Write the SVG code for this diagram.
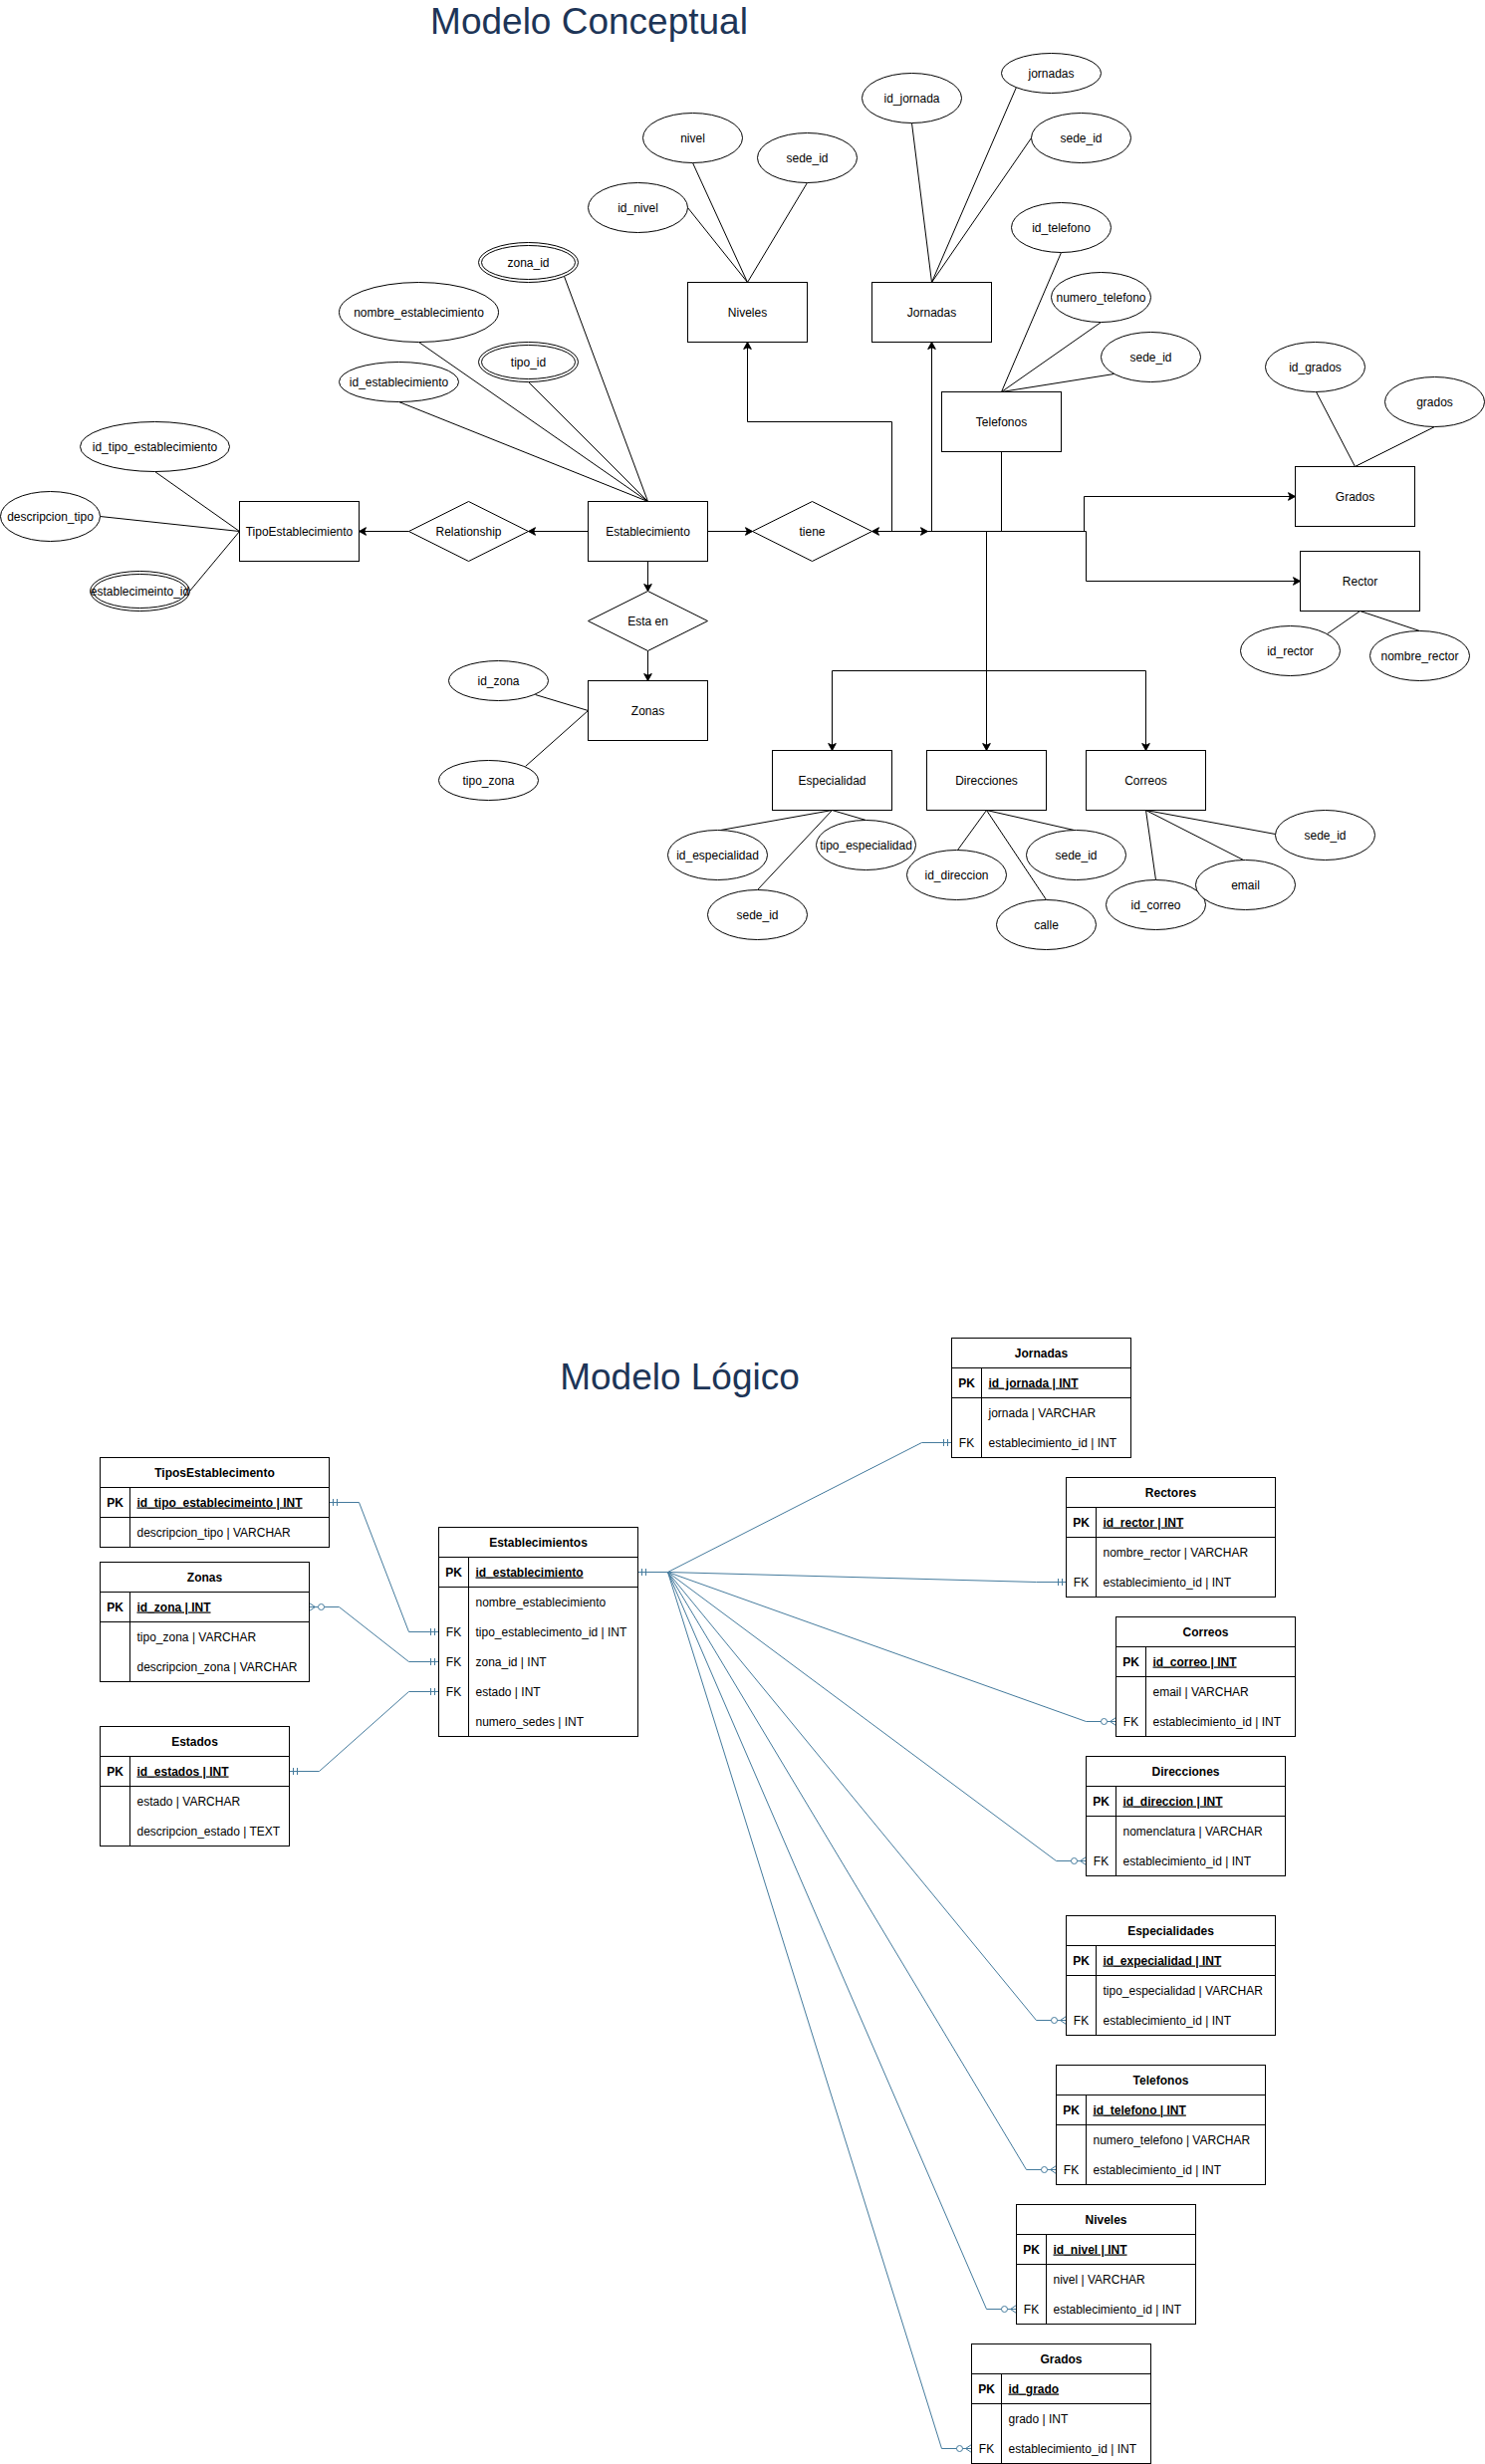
<svg xmlns="http://www.w3.org/2000/svg" width="1491" height="2474" viewBox="0 0 1491 2474">
<style>
text{font-family:"Liberation Sans",Arial,Helvetica,sans-serif;font-size:12px;fill:#000}
.ttl{font-size:37px;fill:#1D3557;text-anchor:middle}
.c{text-anchor:middle}
.b{font-weight:bold}
.u{text-decoration:underline;font-weight:bold}
.sh{fill:#fff;stroke:#000;stroke-width:1}
.ln{stroke:#000;stroke-width:1;fill:none}
.ar{stroke:#000;stroke-width:1;fill:none;marker-end:url(#arr)}
.er{stroke:#457B9D;stroke-width:1;fill:none}
.one2{marker-start:url(#one);marker-end:url(#one)}
.onemany{marker-start:url(#one);marker-end:url(#many)}
</style>
<defs>
<marker id="arr" viewBox="-9 -5 10 10" refX="0" refY="0" markerWidth="10" markerHeight="10" markerUnits="userSpaceOnUse" orient="auto">
<path d="M0,0 L-7,-3.8 L-5.2,0 L-7,3.8 Z" fill="#000" stroke="#000" stroke-width="1"/>
</marker>
<marker id="one" viewBox="-12 -6 14 12" refX="0" refY="0" markerWidth="14" markerHeight="12" markerUnits="userSpaceOnUse" orient="auto-start-reverse">
<path d="M-4,-3.5 V3.5 M-8,-3.5 V3.5" stroke="#457B9D" stroke-width="1" fill="none"/>
</marker>
<marker id="many" viewBox="-17 -6 19 12" refX="0" refY="0" markerWidth="19" markerHeight="12" markerUnits="userSpaceOnUse" orient="auto-start-reverse">
<path d="M0,-4 L-6,0 L0,4" stroke="#457B9D" stroke-width="1" fill="none"/>
<circle cx="-12" cy="0" r="3" fill="#fff" stroke="#457B9D" stroke-width="1"/>
</marker>
</defs>
<rect x="0" y="0" width="1491" height="2474" fill="#fff"/>
<g transform="translate(0.5,0.5)">
<text id="title-conceptual" class="ttl" x="591" y="33">Modelo Conceptual</text>

<g id="conceptual-connectors">
<path class="ln" d="M695,163 L750,283 M690,208 L750,283 M810,183 L750,283"/>
<path class="ln" d="M915,123 L935,283 M1020,87 L935,283 M1035,138 L935,283"/>
<path class="ln" d="M1065,253 L1005,393 M1105,323 L1005,393 M1118,375 L1005,393"/>
<path class="ln" d="M1321,393 L1360,468 M1440,428 L1360,468"/>
<path class="ln" d="M1332,636 L1365,613 M1425,633 L1365,613"/>
<path class="ln" d="M566,277 L650,503 M420,343 L650,503 M530,383 L650,503 M400,403 L650,503"/>
<path class="ln" d="M155,473 L240,533 M100,518 L240,533 M190,593 L240,533"/>
<path class="ln" d="M537,697 L590,713 M527,769 L590,713"/>
<path class="ln" d="M723,833 L835,813 M869,823 L835,813 M760,893 L835,813"/>
<path class="ln" d="M961,853 L990,813 M1050,903 L990,813 M1078,833 L990,813"/>
<path class="ln" d="M1160,883 L1150,813 M1248,863 L1150,813 M1280,837 L1150,813"/>
<path class="ar" d="M590,533 L530,533"/>
<path class="ar" d="M410,533 L360,533"/>
<path class="ar" d="M710,533 L755,533"/>
<path class="ar" d="M650,563 L650,593"/>
<path class="ar" d="M650,653 L650,683"/>
<path class="ar" d="M895,533 L895,423 L750,423 L750,343"/>
<path class="ar" d="M935,533 L935,343"/>
<path class="ln" d="M1005,453 L1005,533"/>
<path class="ar" d="M1090,533 L875,533"/>
<path class="ar" d="M905,533 L931,533"/>
<path class="ar" d="M1088,533 L1088,498 L1300,498"/>
<path class="ar" d="M1090,533 L1090,583 L1305,583"/>
<path class="ar" d="M990,533 L990,753"/>
<path class="ar" d="M990,673 L835,673 L835,753"/>
<path class="ar" d="M990,673 L1150,673 L1150,753"/>
</g>

<g id="c-tipoestablecimiento"><rect class="sh" x="240" y="503" width="120" height="60"/><text class="c" x="300" y="537">TipoEstablecimiento</text></g>
<g id="c-establecimiento"><rect class="sh" x="590" y="503" width="120" height="60"/><text class="c" x="650" y="537">Establecimiento</text></g>
<g id="c-niveles"><rect class="sh" x="690" y="283" width="120" height="60"/><text class="c" x="750" y="317">Niveles</text></g>
<g id="c-jornadas"><rect class="sh" x="875" y="283" width="120" height="60"/><text class="c" x="935" y="317">Jornadas</text></g>
<g id="c-telefonos"><rect class="sh" x="945" y="393" width="120" height="60"/><text class="c" x="1005" y="427">Telefonos</text></g>
<g id="c-grados"><rect class="sh" x="1300" y="468" width="120" height="60"/><text class="c" x="1360" y="502">Grados</text></g>
<g id="c-rector"><rect class="sh" x="1305" y="553" width="120" height="60"/><text class="c" x="1365" y="587">Rector</text></g>
<g id="c-zonas"><rect class="sh" x="590" y="683" width="120" height="60"/><text class="c" x="650" y="717">Zonas</text></g>
<g id="c-especialidad"><rect class="sh" x="775" y="753" width="120" height="60"/><text class="c" x="835" y="787">Especialidad</text></g>
<g id="c-direcciones"><rect class="sh" x="930" y="753" width="120" height="60"/><text class="c" x="990" y="787">Direcciones</text></g>
<g id="c-correos"><rect class="sh" x="1090" y="753" width="120" height="60"/><text class="c" x="1150" y="787">Correos</text></g>

<g id="c-relationship"><polygon class="sh" points="410,533 470,503 530,533 470,563"/><text class="c" x="470" y="537">Relationship</text></g>
<g id="c-tiene"><polygon class="sh" points="755,533 815,503 875,533 815,563"/><text class="c" x="815" y="537">tiene</text></g>
<g id="c-estaen"><polygon class="sh" points="590,623 650,593 710,623 650,653"/><text class="c" x="650" y="627">Esta en</text></g>

<g id="a-nivel"><ellipse class="sh" cx="695" cy="138" rx="50" ry="25"/><text class="c" x="695" y="142">nivel</text></g>
<g id="a-id_nivel"><ellipse class="sh" cx="640" cy="208" rx="50" ry="25"/><text class="c" x="640" y="212">id_nivel</text></g>
<g id="a-sede_id-niveles"><ellipse class="sh" cx="810" cy="158" rx="50" ry="25"/><text class="c" x="810" y="162">sede_id</text></g>
<g id="a-id_jornada"><ellipse class="sh" cx="915" cy="98" rx="50" ry="25"/><text class="c" x="915" y="102">id_jornada</text></g>
<g id="a-jornadas"><ellipse class="sh" cx="1055" cy="73" rx="50" ry="20"/><text class="c" x="1055" y="77">jornadas</text></g>
<g id="a-sede_id-jornadas"><ellipse class="sh" cx="1085" cy="138" rx="50" ry="25"/><text class="c" x="1085" y="142">sede_id</text></g>
<g id="a-id_telefono"><ellipse class="sh" cx="1065" cy="228" rx="50" ry="25"/><text class="c" x="1065" y="232">id_telefono</text></g>
<g id="a-numero_telefono"><ellipse class="sh" cx="1105" cy="298" rx="50" ry="25"/><text class="c" x="1105" y="302">numero_telefono</text></g>
<g id="a-sede_id-telefonos"><ellipse class="sh" cx="1155" cy="358" rx="50" ry="25"/><text class="c" x="1155" y="362">sede_id</text></g>
<g id="a-id_grados"><ellipse class="sh" cx="1320" cy="368" rx="50" ry="25"/><text class="c" x="1320" y="372">id_grados</text></g>
<g id="a-grados"><ellipse class="sh" cx="1440" cy="403" rx="50" ry="25"/><text class="c" x="1440" y="407">grados</text></g>
<g id="a-id_rector"><ellipse class="sh" cx="1295" cy="653" rx="50" ry="25"/><text class="c" x="1295" y="657">id_rector</text></g>
<g id="a-nombre_rector"><ellipse class="sh" cx="1425" cy="658" rx="50" ry="25"/><text class="c" x="1425" y="662">nombre_rector</text></g>
<g id="a-zona_id"><ellipse class="sh" cx="530" cy="263" rx="50" ry="20"/><ellipse class="sh" cx="530" cy="263" rx="47" ry="17"/><text class="c" x="530" y="267">zona_id</text></g>
<g id="a-nombre_establecimiento"><ellipse class="sh" cx="420" cy="313" rx="80" ry="30"/><text class="c" x="420" y="317">nombre_establecimiento</text></g>
<g id="a-tipo_id"><ellipse class="sh" cx="530" cy="363" rx="50" ry="20"/><ellipse class="sh" cx="530" cy="363" rx="47" ry="17"/><text class="c" x="530" y="367">tipo_id</text></g>
<g id="a-id_establecimiento"><ellipse class="sh" cx="400" cy="383" rx="60" ry="20"/><text class="c" x="400" y="387">id_establecimiento</text></g>
<g id="a-id_tipo_establecimiento"><ellipse class="sh" cx="155" cy="448" rx="75" ry="25"/><text class="c" x="155" y="452">id_tipo_establecimiento</text></g>
<g id="a-descripcion_tipo"><ellipse class="sh" cx="50" cy="518" rx="50" ry="25"/><text class="c" x="50" y="522">descripcion_tipo</text></g>
<g id="a-establecimeinto_id"><ellipse class="sh" cx="140" cy="593" rx="50" ry="20"/><ellipse class="sh" cx="140" cy="593" rx="47" ry="17"/><text class="c" x="140" y="597">establecimeinto_id</text></g>
<g id="a-id_zona"><ellipse class="sh" cx="500" cy="683" rx="50" ry="20"/><text class="c" x="500" y="687">id_zona</text></g>
<g id="a-tipo_zona"><ellipse class="sh" cx="490" cy="783" rx="50" ry="20"/><text class="c" x="490" y="787">tipo_zona</text></g>
<g id="a-id_especialidad"><ellipse class="sh" cx="720" cy="858" rx="50" ry="25"/><text class="c" x="720" y="862">id_especialidad</text></g>
<g id="a-tipo_especialidad"><ellipse class="sh" cx="869" cy="848" rx="50" ry="25"/><text class="c" x="869" y="852">tipo_especialidad</text></g>
<g id="a-sede_id-especialidad"><ellipse class="sh" cx="760" cy="918" rx="50" ry="25"/><text class="c" x="760" y="922">sede_id</text></g>
<g id="a-id_direccion"><ellipse class="sh" cx="960" cy="878" rx="50" ry="25"/><text class="c" x="960" y="882">id_direccion</text></g>
<g id="a-calle"><ellipse class="sh" cx="1050" cy="928" rx="50" ry="25"/><text class="c" x="1050" y="932">calle</text></g>
<g id="a-sede_id-direcciones"><ellipse class="sh" cx="1080" cy="858" rx="50" ry="25"/><text class="c" x="1080" y="862">sede_id</text></g>
<g id="a-id_correo"><ellipse class="sh" cx="1160" cy="908" rx="50" ry="25"/><text class="c" x="1160" y="912">id_correo</text></g>
<g id="a-email"><ellipse class="sh" cx="1250" cy="888" rx="50" ry="25"/><text class="c" x="1250" y="892">email</text></g>
<g id="a-sede_id-correos"><ellipse class="sh" cx="1330" cy="838" rx="50" ry="25"/><text class="c" x="1330" y="842">sede_id</text></g>

<text id="title-logico" class="ttl" x="682" y="1394">Modelo Lógico</text>

<g id="logical-connectors">
<path class="er one2" d="M330,1508 L360,1508 L410,1638 L440,1638"/>
<path class="er" style="marker-start:url(#many);marker-end:url(#one)" d="M310,1613 L340,1613 L410,1668 L440,1668"/>
<path class="er one2" d="M290,1778 L320,1778 L410,1698 L440,1698"/>
<path class="er one2" d="M640,1578 L670,1578 L925,1448 L955,1448"/>
<path class="er one2" d="M640,1578 L670,1578 L1040,1588 L1070,1588"/>
<path class="er onemany" d="M640,1578 L670,1578 L1090,1728 L1120,1728"/>
<path class="er onemany" d="M640,1578 L670,1578 L1060,1868 L1090,1868"/>
<path class="er onemany" d="M640,1578 L670,1578 L1040,2028 L1070,2028"/>
<path class="er onemany" d="M640,1578 L670,1578 L1030,2178 L1060,2178"/>
<path class="er onemany" d="M640,1578 L670,1578 L990,2318 L1020,2318"/>
<path class="er onemany" d="M640,1578 L670,1578 L945,2458 L975,2458"/>
</g>

<g id="t-tiposestablecimento">
<rect class="sh" x="100" y="1463" width="230" height="90"/>
<path class="ln" d="M100,1493 H330 M100,1523 H330 M130,1493 V1553"/>
<text class="c b" x="215" y="1482">TiposEstablecimento</text>
<text class="c b" x="115" y="1512">PK</text><text class="u" x="137" y="1512">id_tipo_establecimeinto | INT</text>
<text x="137" y="1542">descripcion_tipo | VARCHAR</text>
</g>
<g id="t-zonas">
<rect class="sh" x="100" y="1568" width="210" height="120"/>
<path class="ln" d="M100,1598 H310 M100,1628 H310 M130,1598 V1688"/>
<text class="c b" x="205" y="1587">Zonas</text>
<text class="c b" x="115" y="1617">PK</text><text class="u" x="137" y="1617">id_zona | INT</text>
<text x="137" y="1647">tipo_zona | VARCHAR</text>
<text x="137" y="1677">descripcion_zona | VARCHAR</text>
</g>
<g id="t-estados">
<rect class="sh" x="100" y="1733" width="190" height="120"/>
<path class="ln" d="M100,1763 H290 M100,1793 H290 M130,1763 V1853"/>
<text class="c b" x="195" y="1752">Estados</text>
<text class="c b" x="115" y="1782">PK</text><text class="u" x="137" y="1782">id_estados | INT</text>
<text x="137" y="1812">estado | VARCHAR</text>
<text x="137" y="1842">descripcion_estado | TEXT</text>
</g>
<g id="t-establecimientos">
<rect class="sh" x="440" y="1533" width="200" height="210"/>
<path class="ln" d="M440,1563 H640 M440,1593 H640 M470,1563 V1743"/>
<text class="c b" x="540" y="1552">Establecimientos</text>
<text class="c b" x="455" y="1582">PK</text><text class="u" x="477" y="1582">id_establecimiento</text>
<text x="477" y="1612">nombre_establecimiento</text>
<text class="c" x="455" y="1642">FK</text><text x="477" y="1642">tipo_establecimento_id | INT</text>
<text class="c" x="455" y="1672">FK</text><text x="477" y="1672">zona_id | INT</text>
<text class="c" x="455" y="1702">FK</text><text x="477" y="1702">estado | INT</text>
<text x="477" y="1732">numero_sedes | INT</text>
</g>
<g id="t-jornadas">
<rect class="sh" x="955" y="1343" width="180" height="120"/>
<path class="ln" d="M955,1373 H1135 M955,1403 H1135 M985,1373 V1463"/>
<text class="c b" x="1045" y="1362">Jornadas</text>
<text class="c b" x="970" y="1392">PK</text><text class="u" x="992" y="1392">id_jornada | INT</text>
<text x="992" y="1422">jornada | VARCHAR</text>
<text class="c" x="970" y="1452">FK</text><text x="992" y="1452">establecimiento_id | INT</text>
</g>
<g id="t-rectores">
<rect class="sh" x="1070" y="1483" width="210" height="120"/>
<path class="ln" d="M1070,1513 H1280 M1070,1543 H1280 M1100,1513 V1603"/>
<text class="c b" x="1175" y="1502">Rectores</text>
<text class="c b" x="1085" y="1532">PK</text><text class="u" x="1107" y="1532">id_rector | INT</text>
<text x="1107" y="1562">nombre_rector | VARCHAR</text>
<text class="c" x="1085" y="1592">FK</text><text x="1107" y="1592">establecimiento_id | INT</text>
</g>
<g id="t-correos">
<rect class="sh" x="1120" y="1623" width="180" height="120"/>
<path class="ln" d="M1120,1653 H1300 M1120,1683 H1300 M1150,1653 V1743"/>
<text class="c b" x="1210" y="1642">Correos</text>
<text class="c b" x="1135" y="1672">PK</text><text class="u" x="1157" y="1672">id_correo | INT</text>
<text x="1157" y="1702">email | VARCHAR</text>
<text class="c" x="1135" y="1732">FK</text><text x="1157" y="1732">establecimiento_id | INT</text>
</g>
<g id="t-direcciones">
<rect class="sh" x="1090" y="1763" width="200" height="120"/>
<path class="ln" d="M1090,1793 H1290 M1090,1823 H1290 M1120,1793 V1883"/>
<text class="c b" x="1190" y="1782">Direcciones</text>
<text class="c b" x="1105" y="1812">PK</text><text class="u" x="1127" y="1812">id_direccion | INT</text>
<text x="1127" y="1842">nomenclatura | VARCHAR</text>
<text class="c" x="1105" y="1872">FK</text><text x="1127" y="1872">establecimiento_id | INT</text>
</g>
<g id="t-especialidades">
<rect class="sh" x="1070" y="1923" width="210" height="120"/>
<path class="ln" d="M1070,1953 H1280 M1070,1983 H1280 M1100,1953 V2043"/>
<text class="c b" x="1175" y="1942">Especialidades</text>
<text class="c b" x="1085" y="1972">PK</text><text class="u" x="1107" y="1972">id_expecialidad | INT</text>
<text x="1107" y="2002">tipo_especialidad | VARCHAR</text>
<text class="c" x="1085" y="2032">FK</text><text x="1107" y="2032">establecimiento_id | INT</text>
</g>
<g id="t-telefonos">
<rect class="sh" x="1060" y="2073" width="210" height="120"/>
<path class="ln" d="M1060,2103 H1270 M1060,2133 H1270 M1090,2103 V2193"/>
<text class="c b" x="1165" y="2092">Telefonos</text>
<text class="c b" x="1075" y="2122">PK</text><text class="u" x="1097" y="2122">id_telefono | INT</text>
<text x="1097" y="2152">numero_telefono | VARCHAR</text>
<text class="c" x="1075" y="2182">FK</text><text x="1097" y="2182">establecimiento_id | INT</text>
</g>
<g id="t-niveles">
<rect class="sh" x="1020" y="2213" width="180" height="120"/>
<path class="ln" d="M1020,2243 H1200 M1020,2273 H1200 M1050,2243 V2333"/>
<text class="c b" x="1110" y="2232">Niveles</text>
<text class="c b" x="1035" y="2262">PK</text><text class="u" x="1057" y="2262">id_nivel | INT</text>
<text x="1057" y="2292">nivel | VARCHAR</text>
<text class="c" x="1035" y="2322">FK</text><text x="1057" y="2322">establecimiento_id | INT</text>
</g>
<g id="t-grados">
<rect class="sh" x="975" y="2353" width="180" height="120"/>
<path class="ln" d="M975,2383 H1155 M975,2413 H1155 M1005,2383 V2473"/>
<text class="c b" x="1065" y="2372">Grados</text>
<text class="c b" x="990" y="2402">PK</text><text class="u" x="1012" y="2402">id_grado</text>
<text x="1012" y="2432">grado | INT</text>
<text class="c" x="990" y="2462">FK</text><text x="1012" y="2462">establecimiento_id | INT</text>
</g>
</g>
</svg>
